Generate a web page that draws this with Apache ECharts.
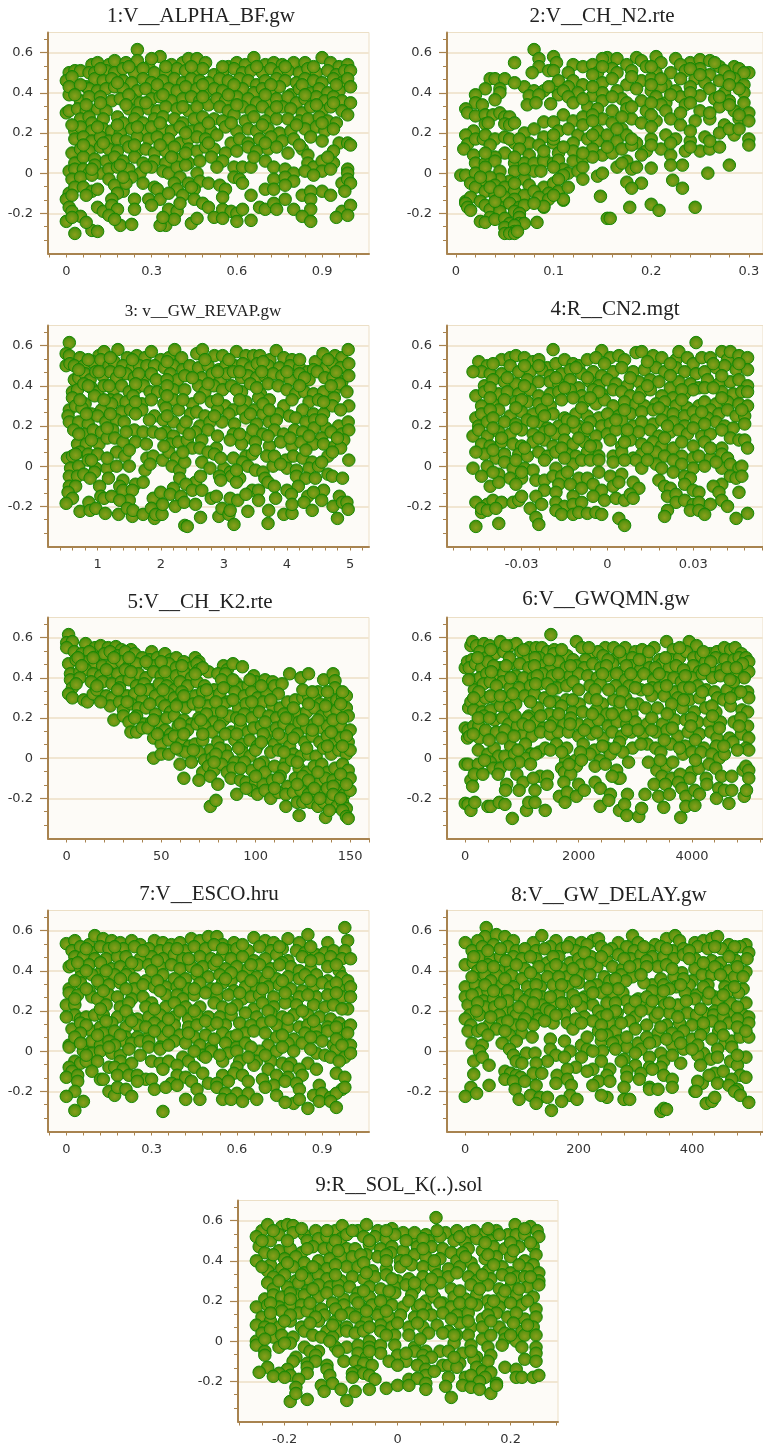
<!DOCTYPE html>
<html><head><meta charset="utf-8"><style>html,body{margin:0;padding:0;background:#fff}#c{width:763px;height:1447px}</style>
<script src="https://cdn.jsdelivr.net/npm/echarts@6/dist/echarts.min.js"></script></head><body><div id="c"></div>
<script>
const titles=["1:V__ALPHA_BF.gw","2:V__CH_N2.rte","3: v__GW_REVAP.gw","4:R__CN2.mgt","5:V__CH_K2.rte","6:V__GWQMN.gw","7:V__ESCO.hru","8:V__GW_DELAY.gw","9:R__SOL_K(..).sol"];
const labels=[[0,.3,.6,.9],[0,.1,.2,.3],[1,2,3,4,5],[-.03,0,.03],[0,50,100,150],[0,2000,4000],[0,.3,.6,.9],[0,200,400],[-.2,0,.2]];
const step=[.06,.02,.2,.006,10,400,.06,40,.04];
const first=[-.06,0,.4,-.054,0,0,-.06,0,-.28];
const ranges=[[-.0645,1.065],[-.0092,.3145],[.212,5.3],[-.0561,.0544],[-9.9,160],[-322,5251],[-.0645,1.065],[-32.2,525.1],[-.2825,.2839]];
const rects=[[48,32.5,321],[447,32.5,316],[48,325.5,321],[447,325.5,316],[48,617.5,321],[447,617.5,316],[48,910.5,321],[447,910.5,316],[238,1200.5,320]];
const titlePos=[[196,11,21],[597,11,21],[198,306.5,17],[610,304,21],[195,597,21],[601,594,21],[204,889,21],[604,890,21],[394,1181,20.5]];

const pts1=[.25,.615,
.09,.54,.11,.55,.15,.54,.17,.56,.21,.55,.25,.56,.29,.53,.33,.58,.3,.57,.37,.54,.41,.55,.43,.57,.46,.57,.49,.55,.57,.53,.6,.55,.63,.54,.66,.575,.7,.54,.73,.55,.76,.54,.8,.55,.84,.55,.9,.575,.93,.55,.96,.53,.99,.54,
.01,.5,.03,.51,.05,.51,.08,.5,.1,.5,.14,.51,.17,.5,.2,.52,.24,.5,.27,.52,.31,.5,.35,.5,.39,.52,.42,.51,.45,.5,.48,.52,.52,.49,.55,.5,.59,.52,.62,.5,.65,.51,.69,.5,.72,.52,.75,.5,.78,.51,.82,.5,.85,.52,.88,.5,.92,.51,.95,.49,.98,.51,1,.51,
0,.46,.02,.48,.07,.43,.1,.47,.13,.46,.16,.47,.2,.46,.23,.45,.27,.47,.3,.45,.34,.46,.38,.47,.41,.45,.44,.47,.47,.46,.5,.45,.54,.47,.57,.46,.61,.47,.64,.46,.67,.44,.7,.46,.74,.47,.77,.46,.81,.45,.84,.47,.87,.46,.9,.45,.94,.47,.97,.45,.99,.47,
.01,.39,.01,.43,.08,.42,.11,.41,.14,.42,.17,.43,.2,.42,.25,.41,.28,.42,.32,.41,.36,.42,.39,.41,.42,.43,.46,.42,.49,.4,.52,.42,.55,.41,.59,.41,.62,.42,.66,.4,.69,.42,.72,.41,.75,.43,.79,.39,.82,.42,.86,.4,.89,.42,.92,.4,.96,.41,1,.43,
.05,.36,.08,.38,.12,.38,.16,.36,.19,.37,.23,.37,.26,.35,.3,.37,.33,.38,.37,.36,.41,.37,.44,.38,.47,.36,.5,.34,.53,.37,.56,.36,.6,.38,.64,.37,.67,.35,.71,.36,.74,.37,.78,.38,.81,.35,.84,.37,.88,.38,.91,.36,.94,.38,.97,.36,1,.35,
0,.3,.01,.31,.04,.32,.07,.31,.11,.32,.14,.31,.18,.28,.22,.32,.25,.3,.29,.32,.32,.31,.35,.33,.39,.32,.43,.31,.46,.33,.54,.33,.57,.31,.62,.33,.65,.31,.69,.33,.72,.3,.76,.33,.79,.32,.83,.3,.86,.33,.9,.31,.93,.33,.97,.31,.99,.29,
.05,.27,.08,.28,.09,.25,.13,.27,.2,.25,.24,.27,.27,.25,.31,.27,.34,.28,.38,.27,.41,.25,.45,.27,.48,.28,.52,.27,.55,.26,.59,.29,.63,.26,.66,.28,.7,.26,.74,.27,.78,.27,.82,.26,.85,.27,.89,.28,.92,.26,.95,.25,
.03,.21,.05,.23,.09,.21,.13,.22,.16,.21,.19,.2,.23,.22,.27,.21,.3,.23,.34,.22,.37,.21,.4,.23,.44,.21,.47,.22,.51,.21,.56,.23,.6,.21,.64,.22,.67,.21,.71,.22,.75,.2,.79,.21,.84,.22,.88,.23,.91,.21,.94,.22,
.03,.17,.06,.18,.09,.16,.12,.18,.15,.16,.18,.17,.21,.16,.25,.18,.29,.17,.32,.18,.36,.17,.4,.15,.43,.17,.46,.18,.49,.17,.53,.19,.58,.15,.61,.17,.64,.15,.68,.17,.72,.18,.76,.16,.8,.17,.86,.18,.9,.16,.96,.15,.99,.15,1,.14,
.02,.1,.05,.12,.08,.11,.12,.13,.15,.12,.18,.11,.22,.13,.25,.11,.28,.12,.31,.1,.35,.11,.38,.13,.43,.12,.46,.11,.49,.13,.52,.12,.56,.1,.6,.11,.64,.13,.67,.11,.71,.12,.74,.13,.78,.1,.83,.12,.85,.09,.94,.11,
.03,.05,.06,.08,.1,.07,.14,.06,.17,.08,.2,.06,.24,.08,.27,.05,.31,.06,.35,.05,.39,.07,.43,.05,.47,.06,.51,.08,.55,.06,.59,.03,.62,.03,.65,.03,.7,.06,.73,.03,.85,.05,.87,.03,.9,.06,.94,.05,
.01,.01,.03,.02,.06,.02,.08,0,.12,0,.15,.02,.18,.03,.22,.02,.26,0,.3,.03,.34,.01,.36,0,.39,.03,.42,.04,.46,0,.53,.03,.77,.02,.8,0,.84,.01,.9,.01,.93,.02,.99,.02,.99,0,
.02,-.03,.05,-.02,.09,-.01,.15,-.03,.23,-.02,.27,-.05,.4,-.02,.43,-.05,.47,-.04,.5,-.05,.59,-.02,.61,-.03,.62,-.05,.73,-.03,.77,-.02,.8,-.04,.87,-.01,.97,-.05,.99,-.03,1,-.05,
.01,-.1,.03,-.07,.06,-.07,.09,-.09,.11,-.08,.2,-.09,.17,-.06,.21,-.05,.31,-.07,.32,-.08,.38,-.05,.39,-.08,.45,-.08,.54,-.06,.56,-.08,.7,-.08,.73,-.08,.77,-.06,.9,-.09,.98,-.09,
0,-.13,.02,-.11,.07,-.11,.18,-.1,.16,-.13,.24,-.13,.29,-.13,.33,-.13,.36,-.1,.41,-.11,.45,-.13,.55,-.12,.65,-.11,.77,-.13,.83,-.11,.86,-.09,.86,-.13,.93,-.11,
.01,-.17,.02,-.19,.11,-.17,.13,-.19,.16,-.16,.18,-.18,.24,-.18,.3,-.16,.36,-.18,.39,-.19,.4,-.15,.48,-.15,.5,-.17,.55,-.18,.58,-.19,.6,-.2,.62,-.18,.68,-.17,.7,-.18,.73,-.15,.74,-.18,.8,-.18,.86,-.18,.97,-.19,1,-.16,
.03,-.3,.09,-.285,.11,-.29,.19,-.26,.23,-.255,.35,-.26,.33,-.26,.38,-.23,.05,-.215,.07,-.245,0,-.24,.02,-.22,.34,-.22,.15,-.21,.17,-.23,.44,-.25,.52,-.22,.46,-.225,.55,-.225,.6,-.24,.65,-.235,.83,-.215,.86,-.24,.95,-.22,.99,-.21,
.12,.52,.22,.53,.35,.53,.44,.53,.55,.53,.67,.53,.77,.53,.87,.53,.05,.44,.18,.45,.32,.44,.48,.44,.59,.44,.72,.44,.83,.44,.95,.44,.03,.39,.12,.35,.22,.39,.34,.39,.48,.38,.57,.39,.7,.39,.84,.39,.94,.35,.07,.34,.21,.34,.28,.35,.41,.33,.6,.34,.74,.33,.88,.34,.02,.24,.11,.23,.18,.24,.25,.23,.33,.25,.42,.2,.5,.25,.58,.25,.69,.24,.81,.24,.9,.25,.06,.14,.13,.15,.24,.14,.33,.14,.42,.1,.5,.15,.7,.15,.82,.14,.1,.04,.19,.04,.28,.03,.37,.08,.66,.08,.92,.08,.09,.02,.2,-.02,.44,-.07];

const pts2=[.08,.615,.06,.55,
.155,.575,.15,.57,.165,.57,.185,.575,.19,.56,.205,.58,.225,.57,.24,.55,.25,.565,.26,.56,.27,.53,.285,.53,.3,.5,.1,.58,.103,.55,.085,.57,.12,.54,.13,.53,.16,.52,.175,.54,.21,.55,.23,.54,.265,.55,.29,.52,
.085,.53,.095,.51,.1,.51,.115,.5,.14,.54,.145,.5,.165,.5,.18,.51,.195,.53,.205,.5,.22,.5,.235,.51,.25,.52,.26,.49,.275,.51,.295,.5,.078,.5,.14,.49,
.12,.46,.13,.44,.15,.45,.16,.47,.175,.44,.19,.46,.2,.47,.215,.44,.23,.47,.245,.47,.255,.45,.27,.46,.285,.47,.295,.44,.1,.43,.105,.46,.115,.43,
.07,.43,.08,.41,.09,.41,.095,.43,.075,.385,.085,.39,.105,.39,.11,.41,.125,.4,.14,.385,.15,.4,.165,.41,.185,.42,.2,.41,.21,.43,.225,.41,.24,.43,.26,.42,.275,.4,.295,.4,.29,.42,
.073,.34,.082,.35,.097,.345,.115,.38,.12,.35,.135,.33,.15,.36,.17,.37,.175,.35,.19,.36,.205,.38,.215,.35,.23,.38,.25,.385,.265,.37,.28,.36,.295,.35,
.11,.29,.12,.26,.13,.28,.145,.32,.15,.27,.16,.31,.175,.32,.195,.31,.21,.34,.215,.31,.235,.34,.25,.31,.27,.33,.285,.31,.3,.3,
.035,.47,.04,.47,.05,.47,.06,.45,.03,.42,.02,.39,.045,.42,.045,.4,.04,.365,.02,.35,.01,.32,.012,.3,.02,.285,.027,.34,.03,.29,.038,.29,.045,.3,.05,.28,.055,.28,.05,.245,.055,.24,.06,.25,.03,.245,.033,.25,.018,.21,.01,.19,.012,.145,.008,.12,.02,.17,.028,.17,.03,.19,
.09,.255,.1,.255,.105,.21,.115,.22,.125,.19,.13,.24,.145,.21,.16,.25,.17,.22,.18,.27,.19,.25,.205,.26,.22,.27,.23,.24,.245,.26,.26,.27,.275,.24,.29,.27,.3,.26,
.07,.2,.08,.22,.09,.18,.075,.15,.085,.14,.1,.15,.1,.17,.12,.15,.135,.17,.145,.16,.155,.19,.165,.16,.175,.19,.185,.15,.2,.17,.215,.19,.225,.17,.24,.16,.255,.18,.27,.2,.285,.19,.3,.17,.3,.14,
.04,.17,.05,.18,.06,.15,.055,.17,.065,.17,.065,.12,.05,.1,.075,.09,.09,.08,.105,.1,.12,.11,.14,.12,.15,.09,.16,.1,.17,.12,.18,.14,.195,.11,.21,.12,.22,.09,.235,.11,.25,.11,.26,.12,.27,.13,.035,.14,
.018,.09,.02,.05,.03,.05,.04,.08,.04,.06,.06,.05,.07,.05,.08,.05,.09,.06,.1,.05,.105,.065,.12,.06,.13,.07,.14,.08,.165,.03,.175,.06,.18,.02,.185,.03,.17,.05,
.005,-.01,.01,-.01,.02,0,.03,.03,.045,.01,.06,.01,.08,.01,.087,.01,.11,.02,.115,0,.125,.01,.13,.03,.07,-.03,.055,-.04,.045,-.03,.035,-.02,.025,-.05,.015,-.05,.04,-.06,.05,-.07,.075,-.06,.09,-.07,.1,-.05,.11,-.01,.105,-.03,.13,-.03,
.02,-.07,.03,-.09,.06,-.09,.07,-.11,.08,-.09,.095,-.1,.105,-.09,.115,-.07,.01,-.14,.015,-.12,.025,-.14,.04,-.11,.045,-.12,.05,-.12,.06,-.13,.085,-.12,.095,-.13,.11,-.135,
.01,-.15,.012,-.17,.015,-.185,.03,-.16,.035,-.18,.045,-.17,.055,-.15,.065,-.17,.07,-.16,.09,-.17,.045,-.19,.06,-.19,.065,-.2,.025,-.24,.035,-.22,.03,-.245,.04,-.23,.05,-.225,.055,-.25,.065,-.22,.065,-.25,.07,-.25,.05,-.27,.06,-.26,.05,-.3,.06,-.29,.055,-.3,.06,-.3,.063,-.29,
.145,-.015,.15,0,.28,.04,.258,0,.232,.04,.22,.04,.2,.025,.222,-.035,.232,-.075,.19,-.05,.175,-.045,.18,-.075,.148,-.115,.178,-.17,.2,-.155,.208,-.185,.245,-.17,.155,-.225,.158,-.225,.083,-.245,.11,-.13,.09,-.165,
.15,.53,.2,.53,.24,.52,.28,.48,.18,.48,.21,.47,.25,.49,.14,.43,.2,.44,.24,.4,.28,.44,.16,.38,.22,.39,.27,.38,.13,.37,.18,.33,.2,.35,.24,.35,.28,.34,.14,.29,.17,.28,.2,.29,.23,.3,.26,.3,.29,.29,.14,.26,.165,.22,.2,.23,.24,.21,.28,.22,.1,.19,.14,.19,.18,.17,.22,.15,.26,.16,.29,.22,.11,.13,.155,.13,.2,.14,.24,.13,.09,.11,.13,.1,.19,.09,.06,.08,.07,.02,.1,.03,.03,.1,.025,-.02,.06,-.05,.04,-.14,.08,-.15,.035,-.07,.045,-.09,.1,-.11];

const pts3=[.55,.615,
.5,.56,.55,.55,.72,.54,1.02,.55,1.1,.57,1.32,.58,1.47,.54,1.62,.55,1.75,.54,1.85,.57,2,.53,2.13,.54,2.22,.58,2.33,.54,2.57,.56,2.66,.58,2.85,.55,2.98,.55,3.2,.57,3.35,.55,3.47,.55,3.57,.55,3.73,.53,3.83,.575,3.95,.54,4.08,.53,4.45,.52,4.57,.56,4.76,.55,4.87,.54,4.97,.58,
.5,.5,.56,.51,.63,.5,.78,.5,.92,.52,1.05,.53,1.18,.5,1.26,.52,1.4,.5,1.55,.49,1.66,.5,1.78,.5,1.9,.5,2.06,.49,2.2,.5,2.35,.48,2.46,.5,2.6,.49,2.75,.5,2.92,.48,3.03,.5,3.17,.5,3.3,.51,3.42,.49,3.53,.51,3.7,.5,3.88,.49,4.05,.5,4.2,.49,4.33,.47,4.42,.48,4.62,.49,4.72,.51,4.85,.49,4.98,.51,
.63,.43,.7,.44,.8,.46,.88,.43,.97,.47,1.08,.45,1.2,.47,1.3,.44,1.45,.46,1.58,.44,1.72,.43,1.85,.46,1.93,.43,2.15,.46,2.27,.43,2.38,.45,2.65,.44,2.82,.46,2.95,.43,3.05,.46,3.15,.47,3.28,.44,3.38,.45,3.52,.44,3.65,.45,3.78,.46,3.92,.45,4.05,.43,4.2,.46,4.35,.43,4.48,.47,4.6,.44,4.73,.44,4.87,.42,4.98,.45,
.6,.37,.68,.38,.78,.41,.9,.39,1,.37,1.1,.4,1.25,.38,1.38,.4,1.5,.37,1.62,.39,1.73,.4,1.83,.37,1.95,.37,2.07,.37,2.2,.38,2.38,.38,2.6,.4,2.7,.37,2.84,.4,2.98,.38,3.12,.4,3.28,.37,3.42,.41,3.58,.36,3.7,.41,3.86,.4,4,.38,4.14,.36,4.28,.37,4.42,.36,4.58,.37,4.75,.38,4.83,.41,4.95,.37,
.6,.34,.8,.31,.95,.35,1.2,.33,1.32,.33,1.45,.32,1.56,.35,1.7,.31,1.85,.33,2.05,.31,2.2,.33,2.5,.31,2.62,.34,2.8,.32,3.02,.3,3.15,.28,3.35,.32,3.55,.34,3.72,.33,3.95,.3,4.35,.32,4.5,.33,4.63,.31,4.75,.34,4.98,.3,
.55,.28,.65,.3,.75,.29,.9,.26,1.06,.28,1.22,.31,1.38,.27,1.52,.28,1.7,.28,1.9,.25,2.08,.29,2.28,.28,2.47,.26,2.57,.27,2.7,.25,2.9,.28,3.08,.26,3.3,.28,3.48,.28,3.62,.26,3.86,.26,4.04,.25,4.25,.28,4.42,.26,4.58,.26,4.72,.3,4.85,.28,
.53,.25,.55,.22,.7,.22,.85,.21,1,.25,1.13,.22,1.3,.23,1.42,.22,1.82,.23,2.04,.23,2.2,.22,2.62,.2,2.78,.22,2.97,.22,3.17,.21,3.35,.24,3.52,.21,3.72,.22,3.83,.23,4.14,.24,4.3,.22,4.44,.23,4.62,.19,4.82,.2,4.97,.22,
.62,.18,.78,.16,.93,.18,1.06,.17,1.24,.18,1.58,.18,1.72,.17,1.88,.17,2.08,.17,2.2,.15,2.35,.19,2.55,.17,2.75,.18,3.15,.16,3.35,.14,3.46,.18,3.62,.16,3.8,.18,3.95,.16,4.12,.18,4.25,.17,4.43,.19,4.55,.14,4.7,.17,4.87,.16,4.98,.18,
.68,.11,.82,.11,1.02,.11,1.15,.14,1.27,.14,1.4,.12,1.6,.12,1.77,.11,2.15,.11,2.28,.12,2.42,.13,2.65,.13,2.88,.09,3.1,.13,3.28,.11,3.5,.12,3.72,.1,3.9,.12,4.08,.1,4.22,.12,4.42,.11,4.58,.11,4.76,.1,4.9,.13,
.52,.04,.6,.05,.72,.07,.85,.06,1,.06,1.3,.07,1.43,.05,1.78,.04,1.88,.05,2.03,.03,2.13,.07,2.25,.04,2.5,.09,2.62,.09,2.75,.07,2.85,.06,3.15,.04,3.35,.05,3.45,.06,3.68,.05,3.98,.03,4.1,.05,4.25,.04,4.4,.02,4.65,.05,4.85,.09,4.98,.03,
.57,-.01,.7,0,.85,.03,.97,-.01,1.15,-.01,1.3,0,1.5,0,1.75,-.02,1.83,.01,2.18,0,2.3,-.02,2.38,.02,2.65,.02,2.78,-.01,3,-.01,3.1,-.03,3.3,.02,3.38,0,3.5,-.02,3.62,-.03,3.78,0,4,-.01,4.15,-.02,4.35,-.01,4.5,0,4.65,-.04,
.55,-.05,.68,-.05,.78,-.04,.95,-.03,1.17,-.06,1.4,-.07,1.6,-.09,1.72,-.08,2.3,-.06,2.55,-.08,2.63,-.05,2.93,-.05,3.12,-.05,3.25,-.06,3.65,-.06,3.7,-.08,4.15,-.05,4.3,-.06,4.45,-.06,4.72,-.05,4.88,-.06,
.55,-.1,.65,-.1,1.03,-.1,1.35,-.1,1.4,-.12,1.55,-.12,2.2,-.11,2.4,-.09,2.5,-.12,2.65,-.12,2.95,-.07,3.2,-.08,3.45,-.12,3.55,-.12,3.8,-.1,4,-.12,4.18,-.1,4.58,-.12,
.53,-.13,.6,-.16,.86,-.18,1.05,-.15,1.1,-.16,1.22,-.15,1.5,-.17,1.35,-.17,1.88,-.16,2,-.13,2.15,-.14,2.32,-.15,2.8,-.16,2.88,-.15,3.1,-.16,3.22,-.17,3.35,-.14,3.55,-.17,3.82,-.16,4.07,-.14,4.33,-.15,4.42,-.13,4.55,-.17,4.83,-.15,
.5,-.185,.72,-.225,.88,-.22,.97,-.21,1.12,-.235,1.33,-.24,1.47,-.21,1.55,-.25,1.56,-.22,1.72,-.24,1.85,-.21,1.9,-.26,1.92,-.24,2.02,-.24,2.03,-.19,2.23,-.2,2.37,-.18,2.55,-.19,2.63,-.255,2.92,-.25,2.97,-.21,3.08,-.24,3.1,-.22,3.38,-.225,3.71,-.22,3.95,-.24,4.08,-.235,4.08,-.19,4.27,-.18,4.4,-.22,4.73,-.2,4.88,-.18,4.95,-.18,4.97,-.215,
2.38,-.295,2.42,-.3,3.16,-.29,3.7,-.285,4.8,-.26,
.85,.53,1.2,.54,1.55,.53,2.1,.52,2.7,.53,3.08,.53,3.62,.52,4.2,.53,4.65,.53,.7,.48,1.02,.47,1.35,.47,1.65,.46,2.1,.43,2.5,.44,2.9,.47,3.25,.47,3.6,.47,4,.47,4.28,.44,4.78,.47,.85,.4,1.18,.4,1.6,.41,2.1,.4,2.75,.41,3.2,.38,3.52,.39,4.2,.4,4.7,.4,.72,.33,1.1,.33,1.6,.32,2.1,.35,2.35,.33,2.9,.33,3.25,.33,3.62,.31,4.08,.33,4.58,.32,.82,.26,1.2,.26,1.6,.26,2.1,.25,2.4,.22,2.85,.25,3.42,.26,3.72,.28,4.55,.23,.7,.16,1.15,.19,1.45,.17,2,.16,2.45,.16,2.9,.15,3.25,.16,3.7,.15,4.05,.14,4.35,.15,4.8,.14,.9,.13,1.5,.08,2.05,.1,2.35,.07,2.95,.04,3.5,.08,3.8,.05,4.3,.08,4.72,.07,.65,.06,.9,.03,1.15,.04,3.2,-.02,3.9,.01,4.55,.02,.88,-.06];

const pts4=[.031,.615,-.019,.58,
-.045,.52,-.042,.5,-.044,.47,-.037,.53,-.034,.54,-.032,.55,-.029,.54,-.026,.52,-.024,.53,-.021,.49,-.018,.51,-.015,.53,-.012,.51,-.01,.5,-.007,.53,-.002,.575,-.004,.54,.001,.54,.004,.55,.006,.53,.01,.565,.012,.57,.016,.55,.019,.54,.024,.53,.025,.57,.028,.54,.03,.51,.033,.54,.036,.54,.04,.57,.042,.53,.043,.57,.046,.55,.049,.54,
-.047,.47,-.041,.46,-.037,.46,-.034,.5,-.031,.47,-.027,.47,-.023,.48,-.02,.45,-.016,.46,-.013,.48,-.009,.46,-.005,.47,-.002,.45,.002,.47,.005,.49,.009,.47,.013,.48,.017,.49,.02,.47,.024,.49,.027,.47,.031,.46,.034,.47,.038,.49,.041,.5,.045,.48,.049,.48,
-.043,.4,-.04,.43,-.036,.42,-.032,.41,-.028,.43,-.024,.42,-.02,.42,-.017,.41,-.013,.43,-.01,.39,-.006,.42,-.003,.4,0,.43,.003,.41,.007,.4,.011,.42,.015,.43,.018,.42,.022,.39,.025,.42,.029,.41,.032,.39,.035,.43,.039,.41,.043,.42,.046,.43,.049,.4,
-.046,.35,-.043,.37,-.038,.36,-.035,.37,-.031,.36,-.027,.38,-.024,.35,-.02,.36,-.017,.37,-.013,.38,-.009,.35,-.005,.38,-.002,.36,.002,.38,.005,.37,.008,.35,.012,.37,.015,.38,.019,.35,.023,.34,.027,.36,.03,.38,.034,.39,.04,.37,.044,.36,.047,.37,.049,.37,
-.044,.3,-.04,.31,-.036,.33,-.032,.32,-.028,.32,-.024,.31,-.02,.3,-.016,.33,-.012,.34,-.008,.32,-.004,.31,-.001,.33,.002,.3,.006,.32,.01,.31,.013,.3,.017,.31,.02,.32,.024,.3,.028,.29,.032,.3,.034,.32,.038,.31,.042,.32,.046,.31,.049,.3,
-.046,.24,-.044,.26,-.038,.28,-.034,.25,-.03,.27,-.026,.26,-.023,.28,-.019,.26,-.015,.24,-.011,.26,-.007,.25,-.003,.24,0,.26,.004,.25,.008,.26,.012,.27,.016,.28,.02,.27,.023,.26,.027,.25,.03,.27,.036,.28,.039,.26,.042,.28,.045,.25,.048,.25,
-.045,.2,-.042,.22,-.036,.22,-.032,.21,-.028,.23,-.024,.22,-.021,.19,-.017,.2,-.014,.23,-.01,.2,-.006,.22,-.002,.2,.001,.21,.005,.23,.009,.2,.012,.22,.016,.21,.019,.23,.023,.22,.027,.2,.031,.23,.035,.24,.038,.22,.041,.2,.044,.19,.048,.21,
-.047,.15,-.045,.18,-.042,.15,-.038,.17,-.034,.16,-.03,.18,-.026,.16,-.022,.17,-.018,.16,-.015,.18,-.011,.19,-.008,.17,-.004,.15,0,.16,.003,.18,.007,.15,.011,.17,.015,.18,.018,.15,.022,.17,.025,.18,.028,.16,.033,.15,.036,.16,.04,.18,.043,.14,.046,.13,.048,.13,
-.044,.11,-.041,.1,-.037,.12,-.033,.11,-.03,.1,-.026,.12,-.022,.13,-.019,.1,-.015,.13,-.012,.11,-.008,.12,-.004,.1,.001,.13,.005,.1,.008,.13,.012,.11,.016,.12,.019,.1,.023,.09,.026,.12,.03,.1,.034,.12,.04,.09,.049,.09,
-.043,.06,-.039,.04,-.036,.06,-.031,.06,-.028,.05,-.024,.07,-.021,.05,-.018,.07,-.014,.06,-.011,.05,-.007,.07,-.003,.05,.002,.05,.005,.07,.009,.04,.012,.06,.017,.07,.02,.05,.026,.05,.03,.04,.032,.05,.036,.04,.04,.06,.042,.04,
-.047,-.01,-.042,0,-.036,.02,-.033,-.01,-.029,-.01,-.026,-.02,-.018,-.01,-.012,.01,-.009,.03,-.006,.03,-.003,.03,.002,.02,.01,.03,.012,-.01,.017,.01,.019,-.01,.023,.03,.026,.01,.03,-.01,.034,0,.04,-.01,.043,.01,.046,-.01,.047,0,
-.044,-.05,-.038,-.04,-.034,-.06,-.03,-.06,-.025,-.07,-.022,-.07,-.019,-.05,-.016,-.05,-.01,-.06,-.007,-.06,-.003,-.03,.001,-.05,.005,-.04,.009,-.08,.018,-.07,.023,-.03,.027,-.05,.029,-.06,.04,-.09,.043,-.05,.045,-.06,.047,-.05,
-.041,-.1,-.038,-.08,-.032,-.09,-.022,-.12,-.017,-.09,-.013,-.09,-.009,-.11,-.005,-.09,-.002,-.12,.002,-.1,.004,-.08,.011,-.11,.02,-.1,.022,-.11,.027,-.09,.03,-.12,.032,-.13,.037,-.1,.039,-.13,.046,-.13,
-.046,-.18,-.042,-.19,-.04,-.17,-.037,-.18,-.033,-.18,-.031,-.17,-.03,-.15,-.025,-.15,-.027,-.21,-.023,-.19,-.018,-.13,-.018,-.18,-.015,-.2,-.012,-.15,-.012,-.19,-.009,-.18,-.005,-.15,-.001,-.17,.003,-.16,.006,-.17,.008,-.14,.009,-.16,.021,-.15,.024,-.14,.024,-.18,.027,-.17,.03,-.19,.032,-.18,.036,-.19,.04,-.17,.042,-.2,
-.044,-.23,-.044,-.21,-.042,-.22,-.039,-.21,-.018,-.22,-.016,-.24,-.012,-.24,-.01,-.23,-.007,-.235,-.004,-.23,-.002,-.24,.021,-.22,.02,-.25,.029,-.22,.032,-.22,.034,-.24,.045,-.26,.049,-.235,.004,-.26,
-.046,-.3,-.038,-.285,-.025,-.255,-.024,-.29,.006,-.295,
-.04,.51,-.029,.5,-.024,.5,-.011,.49,-.001,.51,.014,.52,.022,.51,.037,.51,.046,.51,-.035,.44,-.018,.44,-.007,.44,.008,.44,.022,.45,.04,.45,-.041,.39,-.029,.4,-.015,.39,-.003,.37,.014,.4,.026,.38,.037,.39,-.041,.34,-.03,.33,-.021,.33,-.006,.34,.011,.34,.026,.33,.04,.34,-.041,.28,-.032,.29,-.022,.25,-.009,.29,.006,.28,.018,.29,.033,.27,.047,.28,-.04,.24,-.026,.22,-.012,.22,.003,.23,.021,.2,.034,.21,-.04,.19,-.032,.19,-.02,.18,-.007,.19,.007,.18,.03,.19,-.037,.14,-.024,.14,-.01,.14,.006,.12,.02,.14,-.04,.08,-.029,.09,-.016,.09,-.006,.1,.014,.09,.036,.09,-.046,.07,-.032,.03,-.022,.03,-.015,.04,.006,.03,.014,.03,.038,.02,-.04,-.03,-.03,-.03,-.014,-.03];

const pts5=[1,.615,
0,.575,3,.58,10,.57,15,.55,18,.56,22,.55,26,.555,29,.54,34,.54,45,.53,
0,.55,4,.53,8,.52,12,.53,17,.5,20,.52,23,.53,27,.51,31,.53,36,.52,40,.5,44,.49,48,.5,52,.52,55,.49,58,.5,65,.47,68,.5,70,.48,
1,.47,5,.49,11,.48,15,.47,19,.46,24,.47,29,.48,33,.46,37,.47,43,.47,47,.46,50,.44,54,.47,58,.45,62,.48,66,.45,69,.47,83,.46,85,.44,88,.47,93,.455,
2,.42,7,.43,10,.44,14,.42,18,.41,22,.43,27,.42,31,.44,35,.41,38,.42,42,.4,46,.43,50,.41,54,.39,58,.41,62,.43,66,.4,70,.44,75,.43,80,.42,84,.42,
2,.39,7,.4,13,.38,19,.38,24,.37,29,.38,33,.39,37,.36,41,.37,45,.34,49,.37,53,.36,57,.34,60,.38,64,.36,69,.38,73,.36,78,.34,86,.36,90,.37,92,.35,96,.36,99,.41,100,.38,105,.39,109,.38,
3,.35,1,.32,3,.3,9,.29,11,.28,14,.32,16,.34,21,.31,24,.3,28,.35,32,.31,36,.32,40,.29,43,.34,47,.31,50,.28,54,.32,57,.3,61,.33,65,.29,68,.31,72,.33,76,.31,81,.32,85,.28,89,.33,94,.31,98,.33,101,.3,106,.32,110,.36,114,.37,118,.42,124,.4,128,.42,133,.33,136,.39,141,.42,142,.385,142,.35,
23,.26,28,.28,30,.24,34,.27,38,.25,42,.25,47,.22,52,.26,55,.23,59,.27,63,.25,67,.27,71,.25,75,.26,79,.23,83,.27,91,.25,95,.27,100,.25,104,.28,109,.26,113,.25,117,.28,121,.29,125,.3,128,.31,131,.3,134,.27,139,.28,143,.29,146,.3,148,.31,
25,.19,30,.21,33,.18,37,.21,41,.17,45,.18,49,.18,53,.2,57,.21,62,.19,66,.17,70,.2,74,.22,78,.18,83,.19,86,.21,90,.2,94,.22,98,.2,102,.23,107,.21,111,.2,115,.22,119,.19,123,.22,127,.23,131,.25,135,.21,139,.23,143,.24,148,.25,149,.21,
34,.13,37,.13,40,.15,43,.15,46,.1,52,.14,55,.12,59,.16,64,.14,69,.17,73,.16,77,.13,81,.16,87,.13,92,.16,96,.13,99,.15,103,.16,107,.13,111,.15,115,.17,119,.14,123,.18,127,.15,131,.17,135,.15,138,.16,142,.13,145,.16,150,.14,
50,.07,54,.09,57,.11,61,.08,65,.06,68,.07,72,.09,76,.04,80,.08,84,.04,89,.09,93,.07,97,.09,101,.06,105,.1,110,.07,114,.1,118,.06,122,.12,126,.08,130,.11,134,.08,138,.11,141,.07,145,.1,149,.08,
46,0,50,.02,54,.02,60,.04,63,.03,70,.03,73,-.01,77,0,81,.05,85,.01,89,-.02,93,.03,97,.01,100,.04,104,-.02,108,.03,112,.04,116,-.02,120,.02,124,.01,128,.02,132,.01,136,.05,140,.02,144,.04,148,.02,150,.04,
60,-.03,72,-.07,75,-.04,78,-.06,82,-.03,85,-.07,88,-.05,94,-.02,98,-.06,102,-.03,105,-.07,110,-.04,115,-.05,119,-.01,123,-.05,127,-.07,131,-.04,135,-.03,138,-.07,142,-.05,146,-.03,149,-.06,
62,-.1,70,-.11,76,-.09,80,-.13,87,-.1,92,-.11,95,-.12,100,-.12,104,-.13,109,-.11,113,-.09,117,-.14,121,-.1,125,-.09,130,-.13,134,-.12,137,-.1,141,-.11,145,-.12,150,-.1,
90,-.18,98,-.16,101,-.18,105,-.16,108,-.2,112,-.17,116,-.18,120,-.17,124,-.16,128,-.18,131,-.19,135,-.17,138,-.15,143,-.16,147,-.18,150,-.16,
76,-.24,79,-.21,116,-.24,122,-.22,125,-.22,129,-.22,133,-.24,136,-.22,140,-.21,143,-.24,146,-.22,148,-.25,
123,-.285,137,-.295,139,-.26,146,-.26,148,-.29,149,-.3,
6,.5,14,.5,25,.5,33,.5,42,.48,50,.48,61,.46,72,.45,8,.46,21,.44,34,.43,52,.43,68,.42,82,.39,88,.39,5,.37,16,.36,27,.34,39,.34,51,.34,62,.31,74,.34,83,.35,97,.39,103,.36,112,.32,125,.34,130,.33,138,.33,146,.33,18,.28,32,.28,44,.27,58,.26,70,.28,79,.28,88,.29,98,.28,108,.29,120,.25,128,.27,137,.26,145,.27,36,.2,46,.19,60,.17,71,.19,82,.23,92,.19,105,.18,116,.2,125,.19,133,.19,141,.19,146,.2,48,.12,62,.12,72,.12,84,.12,90,.12,104,.12,112,.12,120,.1,130,.14,140,.13,148,.11,58,.05,67,.04,79,.02,91,.05,103,.08,115,.03,127,.05,138,.06,146,.06,66,-.02,78,-.02,92,-.05,100,-.09,112,-.1,122,-.02,128,-.11,133,-.07,145,-.08,95,-.15,110,-.15,122,-.13,131,-.15,141,-.14,148,-.13,127,-.2,134,-.2,141,-.18,145,-.2];

const pts6=[1510,.615,
100,.56,130,.58,200,.56,330,.57,430,.56,620,.58,800,.56,900,.57,1130,.55,1250,.55,1350,.55,1450,.53,1570,.54,1960,.58,2060,.55,2230,.52,2470,.55,2620,.55,2820,.55,3000,.53,3120,.54,3330,.55,3550,.58,3670,.54,3950,.58,4080,.56,4320,.52,4440,.53,4570,.55,4680,.54,4760,.55,4870,.52,
0,.45,40,.48,120,.49,260,.53,370,.5,530,.52,680,.53,980,.53,1100,.49,1310,.5,1560,.52,1700,.5,1800,.51,1900,.49,2120,.49,2340,.53,2430,.51,2640,.49,2800,.49,2950,.5,3200,.5,3430,.49,3630,.49,3780,.5,3900,.53,4030,.5,4160,.51,4240,.48,4420,.5,4580,.49,4740,.49,4830,.5,4950,.5,5000,.48,
70,.45,180,.47,290,.45,400,.48,610,.45,800,.47,960,.47,1120,.45,1340,.46,1500,.44,1640,.48,1780,.45,1960,.46,2100,.45,2250,.47,2390,.45,2600,.47,2780,.43,2930,.46,3090,.44,3250,.45,3470,.47,3600,.45,3720,.46,4020,.46,4130,.43,4310,.45,4520,.44,4700,.44,4880,.42,5000,.43,
130,.39,260,.4,380,.42,530,.41,680,.42,890,.41,1030,.4,1200,.4,1360,.42,1540,.41,1720,.38,1850,.41,2000,.42,2160,.41,2330,.4,2500,.41,2670,.42,2830,.39,3020,.4,3150,.42,3320,.39,3540,.4,3680,.4,3810,.38,4000,.4,4180,.42,4360,.4,4500,.41,4780,.42,4920,.4,
160,.34,320,.37,440,.38,660,.38,790,.35,950,.35,1150,.36,1320,.37,1450,.37,1620,.35,1790,.36,1900,.38,2200,.36,2380,.37,2650,.36,2890,.36,3100,.34,3300,.35,3420,.35,3700,.33,3850,.35,4100,.36,4250,.34,4400,.33,4620,.34,4730,.38,4980,.33,
60,.25,100,.28,260,.28,360,.3,520,.3,730,.29,890,.27,1050,.31,1220,.32,1400,.3,1600,.28,1780,.29,2010,.27,2200,.3,2420,.27,2620,.29,2830,.3,3050,.27,3290,.31,3510,.31,3750,.3,3950,.29,4130,.3,4450,.3,4560,.29,4790,.32,5000,.3,
150,.24,300,.23,450,.24,620,.26,780,.25,1120,.21,1280,.25,1480,.22,1700,.26,1890,.23,2070,.23,2310,.24,2500,.22,2710,.24,2940,.22,3180,.25,3390,.25,3600,.23,3830,.25,4040,.23,4240,.25,4420,.23,4680,.26,4880,.24,4980,.23,
0,.15,50,.14,150,.16,240,.16,330,.21,520,.19,660,.2,770,.17,920,.16,1100,.2,1240,.18,1380,.15,1560,.18,1740,.17,1990,.17,2180,.17,2350,.19,2520,.16,2680,.18,2850,.17,3000,.18,3210,.17,3480,.17,3700,.19,3890,.19,4100,.18,4300,.18,4500,.18,4740,.18,4980,.16,
40,.1,80,.11,250,.1,360,.14,550,.13,700,.14,1030,.12,1180,.11,1330,.13,1500,.12,1640,.13,1820,.13,2000,.11,2230,.12,2430,.1,2590,.13,2760,.11,2930,.13,3130,.12,3360,.13,3560,.14,3750,.11,3930,.13,4130,.12,4330,.13,4440,.1,4660,.1,4870,.12,5000,.1,
800,.06,1060,.07,1160,.02,1300,.03,1410,.05,1610,.07,1790,.05,2080,.07,2280,.04,2500,.05,2720,.08,2950,.05,3210,.07,3360,.05,3620,.07,3880,.06,4060,.09,4210,.05,4430,.06,4720,.08,4950,.05,5000,.04,
230,.04,400,.02,510,.05,590,.01,700,.01,870,.02,1160,.02,1060,0,1240,.02,1770,-.01,1950,-.01,2200,.02,2380,-.01,2560,.02,2780,.03,2880,-.02,3450,.03,3840,.02,4000,.03,4160,.03,4350,.02,4480,0,4570,.02,
0,-.03,50,-.03,230,-.03,440,-.02,490,-.05,620,-.05,950,-.02,1150,-.03,1700,-.05,1960,-.04,2290,-.04,2470,-.03,2670,-.06,3380,-.06,3550,-.04,3990,-.07,4120,-.05,4300,-.03,4420,-.05,4900,-.06,4950,-.04,5000,-.06,
100,-.11,160,-.08,310,-.08,580,-.08,910,-.08,1320,-.09,1450,-.09,1750,-.07,1860,-.08,2700,-.1,2730,-.1,3470,-.09,3640,-.1,3790,-.08,3960,-.1,4250,-.1,4520,-.09,4700,-.09,5000,-.1,
130,-.14,730,-.13,1020,-.12,1200,-.1,1440,-.13,1740,-.12,2000,-.13,2290,-.12,2590,-.09,3330,-.13,3530,-.13,3760,-.12,3820,-.15,4260,-.13,4470,-.15,
710,-.16,950,-.16,1230,-.16,1660,-.19,1800,-.17,1960,-.19,2100,-.16,2380,-.15,2560,-.18,2860,-.18,3170,-.18,3410,-.19,3600,-.18,3890,-.19,4050,-.16,4130,-.18,4430,-.2,4570,-.16,4700,-.16,4920,-.19,4960,-.16,
0,-.225,50,-.23,100,-.26,170,-.22,400,-.24,450,-.24,600,-.22,700,-.23,1080,-.26,1120,-.22,1230,-.22,1410,-.26,1760,-.22,2380,-.24,2530,-.21,2720,-.26,2810,-.23,2850,-.285,3060,-.29,3110,-.25,3500,-.245,3800,-.295,3890,-.24,4050,-.235,4650,-.225,830,-.3,
450,.54,720,.56,1030,.54,1700,.54,2180,.55,2720,.53,3240,.53,3780,.55,4200,.53,220,.5,780,.5,1230,.5,1480,.49,2520,.49,3070,.49,3530,.5,4330,.48,4890,.47,500,.46,720,.46,1220,.46,1860,.46,2490,.46,2840,.46,3350,.45,3850,.44,4220,.44,4620,.45,4780,.45,60,.39,460,.43,800,.4,1270,.41,1640,.42,2420,.42,2920,.42,3420,.42,3880,.41,4670,.39,240,.33,550,.36,840,.32,1240,.37,1530,.34,2000,.34,2290,.34,2530,.34,2770,.33,3000,.35,3220,.34,3550,.36,3960,.35,4180,.33,4860,.33,150,.3,450,.31,620,.31,1150,.28,1490,.28,1890,.29,2320,.29,2730,.28,2940,.27,3640,.27,3850,.29,4350,.26,4680,.3,230,.2,430,.2,880,.21,1020,.17,1330,.21,1650,.22,1860,.2,2240,.22,2590,.22,2830,.21,3290,.2,3560,.22,3990,.2,4360,.21,4860,.2,140,.12,420,.09,650,.1,860,.11,1130,.16,1500,.16,1850,.17,2100,.14,2320,.13,2860,.14,3050,.14,3290,.14,3650,.15,3980,.16,4480,.15,4830,.16,930,.04,1500,.04,1700,.03,2030,.03,2420,.06,2640,.05,3100,.07,3510,.09,3780,.05,4560,.06,4800,.04,340,-.01,780,-.03,1830,-.03,2050,-.01,3660,-.02,4060,-.01,3230,-.02,3440,-.01];

const pts7=[.98,.615,
0,.535,.03,.55,.08,.53,.1,.575,.13,.56,.16,.55,.19,.54,.23,.55,.26,.53,.31,.55,.34,.54,.37,.53,.4,.54,.44,.56,.47,.55,.5,.57,.53,.57,.55,.53,.59,.54,.66,.565,.7,.55,.73,.54,.78,.56,.82,.54,.85,.58,.92,.54,.99,.55,
.02,.5,.05,.52,.09,.49,.12,.52,.15,.51,.2,.51,.24,.52,.29,.51,.33,.5,.36,.51,.42,.5,.45,.52,.49,.51,.52,.53,.57,.5,.6,.51,.64,.5,.68,.52,.72,.5,.76,.51,.81,.5,.84,.49,.88,.48,.91,.49,.94,.5,.98,.5,
.01,.42,.03,.47,.06,.47,.1,.46,.14,.46,.18,.47,.21,.47,.26,.46,.3,.47,.34,.46,.38,.48,.41,.46,.47,.47,.51,.46,.55,.48,.58,.46,.62,.47,.66,.45,.7,.46,.74,.48,.78,.45,.83,.47,.89,.46,.93,.47,.97,.46,1,.46,
.02,.43,.05,.41,.08,.43,.12,.39,.16,.41,.19,.42,.22,.4,.25,.43,.29,.43,.33,.42,.37,.43,.4,.41,.44,.42,.48,.42,.52,.43,.56,.41,.6,.42,.64,.41,.68,.43,.72,.41,.76,.44,.79,.42,.82,.4,.86,.41,.92,.42,.96,.4,
.05,.37,.09,.38,.13,.36,.17,.38,.21,.38,.24,.36,.28,.35,.34,.38,.38,.36,.42,.36,.46,.38,.5,.37,.54,.38,.58,.35,.62,.37,.67,.37,.7,.35,.74,.36,.78,.37,.82,.36,.88,.38,.92,.35,.97,.37,.99,.35,
.01,.31,.05,.34,.08,.3,.12,.33,.15,.33,.19,.34,.24,.31,.27,.33,.31,.32,.35,.32,.39,.32,.43,.31,.47,.34,.51,.31,.55,.34,.59,.3,.63,.32,.67,.31,.71,.32,.75,.33,.79,.31,.83,.3,.87,.32,.9,.34,.93,.32,.96,.31,1,.32,
.01,.29,.04,.28,.09,.27,.11,.26,.15,.28,.18,.27,.23,.26,.27,.27,.3,.24,.35,.28,.39,.28,.41,.26,.45,.28,.49,.29,.53,.27,.57,.28,.62,.26,.65,.27,.68,.28,.73,.27,.78,.25,.82,.27,.88,.27,.92,.28,.97,.27,1,.27,
0,.23,.03,.23,.14,.23,.19,.22,.22,.24,.28,.22,.35,.22,.38,.24,.42,.22,.47,.22,.52,.24,.55,.22,.6,.23,.66,.21,.69,.24,.73,.22,.77,.24,.81,.23,.87,.23,.91,.22,.94,.23,.99,.21,
.03,.18,0,.17,.05,.16,.07,.17,.1,.18,.13,.18,.18,.17,.22,.17,.25,.16,.29,.17,.33,.18,.38,.17,.43,.16,.46,.18,.5,.17,.54,.17,.58,.18,.63,.19,.67,.17,.72,.19,.76,.17,.8,.18,.85,.18,.89,.17,.93,.16,.96,.14,
.02,.11,.05,.14,.09,.1,.12,.12,.16,.14,.21,.12,.25,.13,.31,.14,.34,.12,.38,.13,.43,.12,.46,.13,.51,.13,.56,.13,.61,.14,.65,.13,.69,.14,.74,.13,.78,.12,.82,.12,.85,.13,.88,.11,.92,.12,.99,.12,1,.13,
.13,.09,.17,.1,.21,.07,.25,.07,.29,.07,.34,.07,.36,.1,.4,.08,.45,.07,.49,.08,.55,.09,.58,.07,.63,.09,.66,.1,.7,.09,.74,.07,.8,.06,.84,.09,.88,.07,.92,.1,.97,.08,.99,.09,
.01,.03,.01,.02,.07,.03,.09,.05,.12,.03,.15,.05,.2,.05,.23,.04,.26,.05,.29,.05,.29,.02,.33,.02,.38,.05,.42,.04,.47,.03,.51,.02,.56,.04,.6,.02,.63,.04,.71,.03,.78,.04,.83,.04,.9,.05,.94,.03,1,.03,
.06,0,.09,-.01,.12,0,.16,-.01,.19,-.02,.22,.01,.33,.01,.41,-.03,.48,-.02,.51,0,.57,-.01,.6,0,.68,0,.74,0,.8,0,.88,-.01,.91,-.02,.95,.01,.98,-.03,1,-.01,
.03,-.05,.05,-.06,.07,-.05,.11,-.05,.19,-.05,.23,-.06,.3,-.05,.33,-.06,.36,-.05,.43,-.05,.49,-.03,.55,-.05,.61,-.05,.67,-.05,.72,-.05,.76,-.06,.79,-.06,.85,-.06,.93,-.03,.96,-.05,
.01,-.08,.02,-.1,.09,-.1,.15,-.08,.17,-.08,.2,-.09,.34,-.09,.39,-.07,.45,-.08,.6,-.08,.66,-.07,.71,-.09,.78,-.08,.82,-.09,.88,-.09,.95,-.11,
0,-.13,.04,-.12,.12,-.14,.18,-.12,.22,-.12,.25,-.12,.28,-.14,.39,-.12,.42,-.13,.48,-.11,.55,-.12,.59,-.11,.62,-.12,.74,-.12,.78,-.13,.83,-.12,.98,-.13,
.04,-.15,.13,-.14,.25,-.15,.3,-.14,.37,-.16,.44,-.15,.5,-.16,.53,-.16,.57,-.15,.64,-.15,.69,-.14,.73,-.17,.77,-.15,.81,-.16,.89,-.17,.97,-.19,
.03,-.2,0,-.225,.15,-.2,.17,-.22,.18,-.18,.21,-.19,.23,-.225,.31,-.19,.35,-.18,.39,-.17,.46,-.19,.53,-.18,.56,-.21,.6,-.21,.64,-.21,.7,-.18,.74,-.22,.82,-.19,.87,-.22,.9,-.21,.93,-.23,.95,-.21,.98,-.18,
.03,-.295,.06,-.25,.34,-.3,.47,-.24,.42,-.24,.55,-.24,.58,-.24,.62,-.25,.67,-.24,.8,-.26,.77,-.255,.82,-.24,.85,-.285,.89,-.25,.93,-.25,.95,-.28,
.07,.51,.17,.52,.27,.5,.39,.51,.55,.51,.62,.53,.75,.52,.86,.52,.04,.44,.12,.44,.23,.44,.32,.45,.43,.46,.53,.45,.65,.43,.75,.43,.86,.45,.95,.43,.07,.4,.14,.4,.3,.4,.46,.4,.58,.39,.71,.39,.84,.38,.03,.35,.11,.35,.19,.36,.32,.35,.4,.34,.56,.36,.65,.35,.76,.35,.86,.35,.95,.34,.03,.26,.07,.31,.13,.3,.21,.31,.33,.3,.45,.31,.53,.31,.61,.29,.69,.31,.77,.29,.85,.28,.95,.29,.12,.21,.21,.2,.31,.21,.4,.2,.45,.2,.58,.21,.71,.2,.83,.2,.97,.21,.07,.13,.14,.15,.23,.15,.28,.12,.36,.16,.49,.15,.53,.14,.72,.15,.78,.16,.87,.15,.95,.12,.05,.09,.11,.08,.19,.08,.31,.1,.43,.09,.52,.06,.6,.08,.76,.08,.86,.07,.95,.06,.03,.07,.05,.04,.17,.03,.36,.03,.65,.02,.76,.02,.86,.01,.97,.03,.07,-.02,.15,.02,.26,-.02,.45,0,.54,-.02,.64,-.03,.7,-.02];

const pts8=[37,.615,
0,.54,35,.57,22,.55,55,.58,70,.57,85,.55,120,.54,135,.575,160,.55,185,.54,205,.54,225,.55,235,.56,270,.54,295,.575,305,.54,335,.53,355,.56,370,.575,378,.55,405,.54,420,.55,435,.56,445,.57,465,.53,495,.53,
12,.5,30,.52,50,.53,75,.52,90,.5,105,.51,125,.5,150,.52,170,.51,195,.5,215,.53,240,.52,258,.51,285,.52,298,.5,325,.5,345,.52,365,.5,385,.51,410,.52,428,.51,452,.51,470,.49,485,.52,500,.49,
0,.43,14,.44,25,.47,45,.46,62,.47,85,.47,100,.46,125,.46,145,.44,165,.47,185,.44,200,.46,222,.47,250,.45,270,.48,292,.46,310,.48,330,.47,350,.47,368,.46,385,.48,405,.46,435,.45,450,.44,478,.45,497,.46,
22,.4,40,.43,60,.4,80,.41,105,.41,130,.42,150,.41,170,.41,205,.43,232,.42,260,.42,278,.41,305,.43,340,.42,355,.43,382,.39,405,.41,425,.4,445,.41,465,.4,495,.395,
0,.32,22,.36,35,.38,55,.38,82,.38,100,.36,125,.36,145,.37,180,.37,203,.38,220,.38,245,.37,275,.38,295,.37,330,.33,345,.36,368,.37,400,.35,418,.38,435,.38,460,.35,475,.37,
18,.33,45,.35,65,.33,85,.32,110,.32,133,.32,155,.33,180,.32,200,.34,232,.33,255,.35,283,.35,315,.34,350,.33,372,.32,395,.33,428,.33,458,.32,490,.31,
0,.27,25,.29,40,.3,62,.28,92,.28,115,.28,135,.27,165,.28,210,.27,240,.29,262,.28,278,.29,305,.26,335,.28,360,.31,388,.29,408,.28,440,.27,465,.3,482,.29,
5,.23,32,.25,50,.26,75,.28,105,.25,135,.23,155,.24,182,.24,205,.26,225,.23,250,.24,285,.25,312,.23,345,.26,375,.23,405,.26,428,.26,445,.25,468,.24,495,.24,
8,.18,35,.22,52,.22,70,.2,85,.2,125,.18,143,.21,175,.21,205,.22,235,.2,265,.24,290,.21,325,.21,352,.23,392,.19,422,.19,440,.2,468,.18,490,.18,
0,.16,25,.18,60,.18,90,.18,110,.19,130,.16,150,.2,175,.18,210,.17,240,.17,268,.19,300,.17,335,.17,360,.19,408,.18,438,.18,455,.17,500,.17,
10,.13,42,.13,65,.14,88,.13,120,.13,155,.14,180,.14,225,.15,255,.14,290,.15,320,.13,355,.13,378,.14,400,.13,435,.15,465,.14,500,.14,
5,.1,22,.1,55,.11,78,.08,100,.09,118,.07,190,.11,235,.1,265,.1,300,.11,340,.09,365,.09,385,.1,420,.11,447,.1,485,.09,
12,.04,30,.03,65,.04,90,.05,175,.05,150,.06,205,.03,240,.05,270,.05,305,.04,335,.05,365,.03,400,.06,435,.06,458,.04,470,.05,485,.07,500,.07,
25,0,78,.01,108,-.01,123,-.01,150,.01,185,0,215,.01,242,0,285,.02,310,.01,345,-.01,385,.01,420,-.01,445,.01,
15,-.05,30,-.03,85,-.02,160,-.02,145,-.05,205,-.03,240,-.05,280,-.04,300,-.07,325,-.03,350,-.05,380,-.06,410,-.02,433,-.04,468,-.05,495,-.03,
42,-.07,90,-.05,125,-.06,195,-.08,225,-.09,255,-.09,275,-.05,325,-.08,345,-.08,415,-.07,480,-.07,
15,-.115,70,-.1,80,-.11,90,-.12,120,-.11,162,-.12,180,-.09,215,-.1,250,-.12,285,-.1,310,-.11,330,-.09,350,-.12,440,-.11,455,-.1,485,-.12,
70,-.14,98,-.13,135,-.11,180,-.14,235,-.15,255,-.15,285,-.13,307,-.14,365,-.14,418,-.16,430,-.12,470,-.14,495,-.13,
10,-.18,42,-.17,85,-.15,105,-.15,125,-.17,160,-.16,187,-.17,225,-.17,280,-.18,325,-.18,365,-.18,405,-.2,410,-.15,445,-.16,465,-.17,480,-.19,
0,-.225,20,-.21,88,-.19,95,-.24,115,-.22,132,-.23,145,-.23,185,-.22,197,-.24,250,-.23,240,-.22,280,-.24,290,-.24,325,-.19,340,-.19,407,-.2,425,-.26,435,-.25,440,-.23,475,-.2,485,-.22,
125,-.26,152,-.295,170,-.25,345,-.3,350,-.285,355,-.29,500,-.255,
40,.5,62,.51,140,.51,180,.52,250,.5,315,.52,355,.51,395,.5,440,.52,475,.52,15,.47,72,.45,115,.47,155,.47,210,.49,240,.47,280,.46,320,.45,395,.46,420,.44,465,.47,30,.42,50,.42,90,.43,160,.43,190,.41,220,.44,290,.42,320,.42,365,.41,440,.42,480,.42,12,.37,70,.36,115,.39,165,.37,195,.35,265,.36,310,.38,385,.36,450,.38,490,.37,35,.33,75,.3,125,.33,170,.33,220,.32,270,.31,330,.3,380,.33,420,.32,475,.32,12,.28,50,.3,75,.25,125,.28,150,.27,190,.28,225,.29,250,.31,320,.27,350,.3,430,.29,455,.28,22,.24,62,.24,95,.22,120,.24,170,.24,195,.25,265,.2,300,.25,330,.25,360,.24,390,.25,480,.22,20,.2,45,.17,105,.16,160,.18,195,.16,250,.18,310,.2,340,.19,375,.17,415,.21,455,.21,480,.16,30,.11,75,.15,100,.13,140,.15,205,.14,240,.13,275,.14,345,.12,420,.14,450,.12,480,.12,40,.08,70,.1,215,.07,250,.08,285,.07,320,.07,355,.06,375,.07,415,.08,455,.08,495,.1,240,.08,260,.04,325,.04,380,.04,410,.03,470,.02,100,-.06,175,-.03,225,.0,265,.01,300,-.01,365,-.02,400,.01,445,-.03,480,-.02];

const pts9=[.068,.615,
-.24,.55,-.23,.58,-.205,.57,-.195,.58,-.185,.575,-.165,.53,-.145,.55,-.11,.55,-.098,.575,-.07,.55,-.055,.58,-.035,.55,-.01,.56,.01,.54,.05,.53,.085,.54,.105,.55,.125,.54,.15,.53,.175,.55,.195,.53,.208,.58,.235,.57,.247,.55,
-.25,.52,-.225,.5,-.21,.53,-.185,.54,-.16,.5,-.14,.51,-.125,.52,-.1,.51,-.09,.53,-.06,.52,-.04,.52,-.02,.51,-.005,.53,.03,.5,.055,.5,.075,.52,.1,.5,.12,.49,.14,.51,.165,.5,.18,.53,.21,.53,.225,.53,.25,.52,
-.245,.47,-.235,.44,-.21,.45,-.19,.46,-.17,.44,-.15,.47,-.13,.46,-.115,.47,-.09,.46,-.075,.46,-.05,.48,-.03,.46,-.01,.47,.01,.45,.035,.47,.06,.47,.08,.46,.095,.44,.125,.46,.15,.45,.17,.47,.19,.46,.215,.47,.24,.47,.245,.43,
-.25,.4,-.225,.38,-.2,.41,-.18,.42,-.165,.39,-.14,.4,-.12,.41,-.1,.42,-.08,.42,-.055,.43,-.035,.42,-.012,.44,.005,.4,.03,.43,.05,.42,.075,.41,.105,.4,.13,.39,.155,.41,.175,.42,.2,.42,.225,.4,.24,.38,
-.23,.35,-.205,.36,-.185,.37,-.165,.34,-.145,.36,-.125,.36,-.09,.37,-.07,.37,-.045,.35,-.02,.36,.005,.37,.025,.38,.045,.37,.065,.37,.09,.36,.11,.37,.135,.36,.16,.35,.185,.37,.2,.34,.23,.36,.25,.34,
-.22,.32,-.2,.33,-.18,.3,-.16,.31,-.14,.33,-.125,.31,-.1,.3,-.08,.32,-.06,.31,-.04,.32,-.02,.33,0,.3,.02,.31,.045,.32,.07,.33,.09,.32,.125,.32,.14,.3,.165,.31,.185,.33,.21,.32,.225,.32,.25,.3,
-.23,.29,-.22,.26,-.195,.27,-.175,.29,-.16,.25,-.14,.28,-.12,.27,-.105,.28,-.085,.27,-.07,.24,-.05,.27,-.03,.26,-.005,.27,.015,.28,.03,.26,.05,.28,.075,.29,.095,.26,.13,.28,.16,.28,.18,.26,.2,.27,.23,.27,.25,.28,
-.235,.21,-.22,.23,-.205,.22,-.18,.23,-.165,.23,-.14,.22,-.125,.24,-.095,.21,-.075,.21,-.05,.22,-.02,.2,-.005,.24,.025,.23,.05,.2,.065,.22,.08,.19,.1,.22,.12,.21,.14,.23,.16,.2,.185,.22,.21,.23,.24,.22,
-.25,.17,-.23,.18,-.21,.17,-.19,.18,-.17,.18,-.15,.15,-.135,.16,-.115,.19,-.095,.18,-.065,.17,-.045,.18,-.03,.15,-.01,.18,.01,.17,.035,.17,.05,.16,.075,.19,.095,.17,.115,.17,.14,.18,.165,.17,.18,.17,.22,.18,.245,.16,
-.24,.12,-.225,.1,-.205,.15,-.175,.14,-.16,.15,-.13,.13,-.11,.1,-.085,.14,-.075,.12,-.055,.1,-.035,.13,-.015,.12,.005,.13,.03,.12,.06,.13,.08,.14,.105,.13,.125,.14,.15,.11,.175,.14,.195,.12,.225,.11,.245,.12,
-.25,.08,-.235,.07,-.21,.07,-.19,.1,-.17,.07,-.14,.1,-.125,.05,-.105,.05,-.09,.07,-.065,.07,-.03,.08,-.01,.07,.02,.07,.045,.07,.07,.08,.09,.05,.11,.09,.13,.07,.15,.07,.18,.07,.19,.04,.22,.05,.24,.07,
-.25,0,-.24,.04,-.22,.02,-.205,.03,-.185,.02,-.165,.05,-.15,.03,-.135,.02,-.115,.02,-.09,.05,-.075,.04,-.06,.05,-.05,0,-.03,.05,-.005,.03,.02,.03,.055,.04,.08,.04,.105,.03,.125,.03,.15,.01,.19,.01,.21,0,.225,.03,.245,.03,
-.25,-.02,-.235,-.05,-.21,-.03,-.19,-.01,-.165,-.03,-.14,-.05,-.11,-.03,-.09,-.03,-.07,-.02,-.05,-.03,-.03,-.02,-.005,-.02,.03,-.03,.05,-.05,.075,-.05,.1,-.01,.13,-.02,.16,-.03,.185,-.02,.22,-.03,.245,-.03,
-.235,-.07,-.18,-.08,-.155,-.05,-.145,-.07,-.105,-.05,-.07,-.06,-.055,-.08,-.03,-.06,0,-.07,.03,-.05,.045,-.07,.06,-.08,.09,-.05,.115,-.06,.14,-.08,.165,-.07,.225,-.09,.245,-.06,
-.185,-.1,-.16,-.11,-.145,-.1,-.125,-.12,-.095,-.1,-.075,-.1,-.06,-.11,-.015,-.1,.015,-.1,.045,-.1,.08,-.12,.11,-.11,.135,-.09,.16,-.1,.245,-.1,
-.23,-.13,-.195,-.14,-.16,-.13,-.125,-.14,-.07,-.15,-.045,-.12,0,-.12,.035,-.12,.05,-.14,.09,-.12,.105,-.13,.14,-.13,.15,-.15,.19,-.13,.21,-.14,
-.245,-.155,-.21,-.16,-.19,-.17,-.16,-.16,-.12,-.17,-.08,-.16,-.06,-.16,.05,-.17,.065,-.15,.12,-.18,.13,-.17,.165,-.155,.155,-.18,
-.22,-.175,-.2,-.18,-.175,-.19,-.135,-.22,-.115,-.21,-.08,-.18,-.05,-.17,-.04,-.19,.02,-.19,.035,-.185,.09,-.18,.115,-.22,.145,-.2,.175,-.21,.21,-.18,.22,-.18,.24,-.18,.25,-.17,
-.18,-.23,-.13,-.25,-.1,-.24,-.075,-.25,-.05,-.24,-.02,-.235,0,-.22,.02,-.22,.05,-.21,.05,-.24,.085,-.225,.13,-.23,.145,-.24,.165,-.26,.175,-.22,
-.19,-.3,-.18,-.26,-.16,-.29,-.09,-.295,.095,-.28,
-.22,.55,-.17,.56,-.125,.55,-.08,.55,-.02,.55,.03,.54,.07,.55,.135,.55,.16,.56,.225,.56,-.24,.5,-.195,.5,-.11,.5,-.05,.5,.015,.5,.045,.51,.11,.52,.155,.49,.2,.49,.235,.49,-.22,.43,-.16,.46,-.105,.45,-.065,.43,-.02,.43,.045,.46,.115,.44,.16,.43,.205,.45,-.24,.37,-.195,.39,-.15,.37,-.11,.38,-.06,.39,-.02,.4,.015,.4,.065,.4,.12,.42,.17,.38,.215,.38,-.21,.3,-.17,.33,-.11,.33,-.055,.34,-.01,.31,.06,.31,.105,.34,.15,.33,.2,.31,.235,.32,-.19,.24,-.15,.26,-.105,.25,-.06,.25,-.015,.25,.03,.29,.06,.25,.11,.25,.145,.26,.19,.25,.215,.26,-.225,.19,-.19,.21,-.155,.19,-.11,.16,-.07,.19,-.03,.2,.02,.2,.04,.18,.11,.19,.13,.19,.17,.2,.2,.19,.23,.2,-.225,.14,-.19,.13,-.145,.12,-.1,.13,-.055,.15,-.02,.15,.045,.13,.095,.11,.16,.13,.21,.14,-.225,.06,-.2,.1,-.155,.09,-.115,.08,-.05,.07,.0,.09,.035,.09,.125,.1,.165,.1,.205,.09,.23,.08,-.235,.01,-.2,-.01,-.12,0,-.02,.03,.04,.01,.1,.03,.165,.03,.2,.03,-.05,-.05,.015,-.06,.1,-.08,.13,-.05];

const allPts=[pts1,pts2,pts3,pts4,pts5,pts6,pts7,pts8,pts9];
const fill={type:'radial',x:.5,y:.6,r:.6,colorStops:[{offset:0,color:'#8a9f1c'},{offset:.65,color:'#5c9410'},{offset:1,color:'#238603'}]};
const option={animation:false,title:[],grid:[],xAxis:[],yAxis:[],series:[]};
titles.forEach((t,i)=>{
 const [l,tp,w]=rects[i];
 const ticks=[];for(let v=first[i];v<=ranges[i][1];v+=step[i])ticks.push(+v.toFixed(4));
 option.title.push({text:t,left:titlePos[i][0],top:titlePos[i][1],textAlign:'center',textVerticalAlign:'middle',textStyle:{fontFamily:'Liberation Serif',fontWeight:'normal',fontSize:titlePos[i][2],color:'#222'}});
 option.grid.push({left:l,top:tp,width:w,height:221,show:true,backgroundColor:'#fdfbf7',borderColor:'#ecdfc6',borderWidth:1,containLabel:false});
 option.xAxis.push({type:'value',gridIndex:i,min:ranges[i][0],max:ranges[i][1],splitLine:{show:false},
  axisLine:{onZero:false,lineStyle:{color:'#a8834f',width:2}},
  axisTick:{customValues:ticks,length:4,inside:false,lineStyle:{color:'#a8834f',width:1}},
  axisLabel:{customValues:labels[i],margin:12,fontFamily:'DejaVu Sans',fontSize:13,color:'#333',formatter:v=>String(+v.toFixed(4))}});
 option.yAxis.push({type:'value',gridIndex:i,min:-.4,max:.7,interval:.2,
  splitLine:{show:true,lineStyle:{color:'#f1e6d2',width:2}},
  axisLine:{onZero:false,lineStyle:{color:'#a8834f',width:2}},
  axisTick:{customValues:[-.2,0,.2,.4,.6],length:8,lineStyle:{color:'#a8834f',width:1.2}},
  minorTick:{show:true,splitNumber:3,length:4,lineStyle:{color:'#a8834f',width:1}},
  axisLabel:{customValues:[-.2,0,.2,.4,.6],margin:15,fontFamily:'DejaVu Sans',fontSize:13,color:'#333',formatter:v=>String(+v.toFixed(1))}});
 const d=[];const p=allPts[i];for(let k=0;k<p.length;k+=2)d.push([p[k],p[k+1]]);
 option.series.push({type:'scatter',xAxisIndex:i,yAxisIndex:i,data:d,large:false,symbolSize:12.5,itemStyle:{color:fill,borderColor:'#178803',borderWidth:1,opacity:1},clip:false});
});
echarts.init(document.getElementById('c'),null,{renderer:'canvas'}).setOption(option);
</script></body></html>
